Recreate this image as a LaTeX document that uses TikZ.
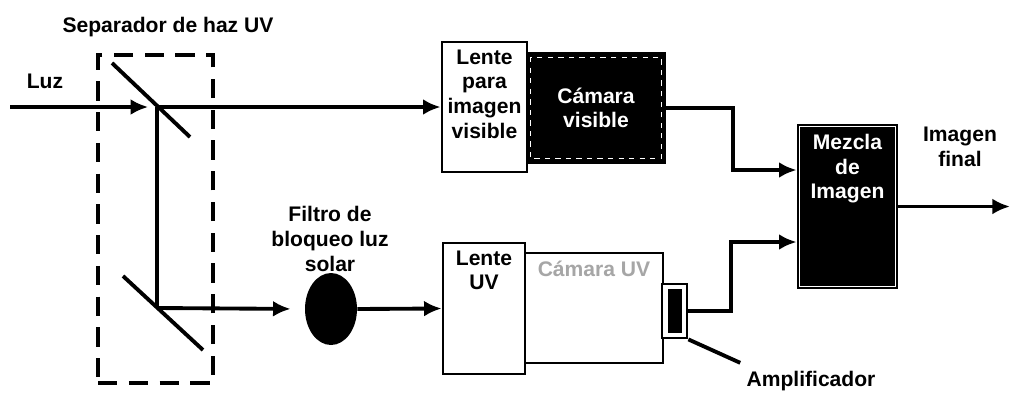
\documentclass[tikz,border=0pt]{standalone}
\usepackage{fontspec}
\setmainfont{Liberation Sans}
\usetikzlibrary{arrows.meta,positioning,shapes.geometric,calc}

\tikzset{
  beam/.style={line width=2.2pt},
  whitebox/.style={draw, line width=1.6pt, fill=white, inner sep=0pt},
  blackbox/.style={draw, line width=1.6pt, fill=black, text=white, inner sep=0pt, align=center},
  lbl/.style={align=center, inner sep=0pt},
}

\begin{document}
\begin{tikzpicture}[x=0.02cm, y=-0.02cm, >={Latex[length=10pt,width=9pt]},
  font=\bfseries\fontsize{12}{14}\selectfont]
\useasboundingbox (0,0) rectangle (1012,397);

% beam splitter
\node[draw, dash pattern=on 11pt off 6.5pt, line width=2.8pt, minimum width=2.3cm, minimum height=6.56cm] (sep) at (155.5,219) {};
\node[lbl] (septxt) at (168,27) {Separador de haz UV};
\node[lbl] (luz) at (45,81) {Luz};

\coordinate (luzin) at (10,107);
\coordinate (s1) at (157,107);
\coordinate (s2) at (157,308);
\coordinate (m1a) at (112,63);
\coordinate (m1b) at (190,137);
\coordinate (m2a) at (123,276);
\coordinate (m2b) at (203,350);

% visible path
\node[blackbox, minimum width=2.76cm, minimum height=2.18cm] (camvis) at (596,108) {C\'amara\\visible};
\draw[white, dashed, line width=0.6pt] ($(camvis.north west)+(5,5)$) rectangle ($(camvis.south east)+(-5,-5)$);
\node[whitebox, minimum width=1.7cm, minimum height=2.6cm] (lensvis) at (484.5,107) {};
\node[lbl, below=5pt of lensvis.north] (lensvistxt) {Lente\\para\\imagen\\visible};

% UV path
\node[lbl] (filtrotxt) at (330,239) {Filtro de\\bloqueo luz\\solar};
\node[ellipse, fill=black, minimum width=1.04cm, minimum height=1.44cm, inner sep=0pt] (filtro) at (331,309) {};
\node[whitebox, minimum width=2.76cm, minimum height=2.2cm] (camuv) at (594,308) {};
\node[lbl, text=black!35, below=5pt of camuv.north] (camuvtxt) {C\'amara UV};
\node[whitebox, minimum width=1.64cm, minimum height=2.62cm] (lensuv) at (484,308.5) {};
\node[lbl, below=5pt of lensuv.north] (lensuvtxt) {Lente\\UV};
\node[whitebox, minimum width=0.5cm, minimum height=1.08cm] (amp) at (674.5,311) {};
\node[fill=black, minimum width=0.28cm, minimum height=0.88cm, inner sep=0pt] (ampcore) at (amp.center) {};
\node[lbl] (amplbl) at (811,381) {Amplificador};

% mixer
\node[blackbox, minimum width=1.98cm, minimum height=3.26cm] (mixer) at (847.5,206.5) {};
\draw[white, line width=0.6pt] ($(mixer.north west)+(3,3)$) rectangle ($(mixer.south east)+(-3,-3)$);
\node[lbl, text=white, below=6pt of mixer.north] (mixertxt) {Mezcla\\de\\Imagen};
\node[lbl] (final) at (960,147) {Imagen\\final};

\coordinate (y1) at (0,170);
\coordinate (y2) at (0,242);
\coordinate (in1) at (mixer.west |- y1);
\coordinate (in2) at (mixer.west |- y2);
\coordinate (fin) at (1010,206.5);

% connectors
\draw[beam] (m1a) -- (m1b);
\draw[beam] (m2a) -- (m2b);
\draw[beam,->,shorten >=5pt] (luzin) -- (s1);
\draw[beam,->] (s1) -- (lensvis.west);
\draw[beam] (s1) -- (s2);
\draw[beam,->,shorten >=8pt] (s2) -- (filtro.west);
\draw[beam,->] (filtro.east) -- (lensuv.west);
\draw[beam,->] (camvis.east) -- ++(67,0) |- (in1);
\draw[beam,->] (amp.east) -- ++(43,0) |- (in2);
\draw[beam,->] (mixer.east) -- (fin);
\draw[beam] (amp.south east) -- ($(amplbl.north west)+(-6,-8)$);
\end{tikzpicture}
\end{document}
